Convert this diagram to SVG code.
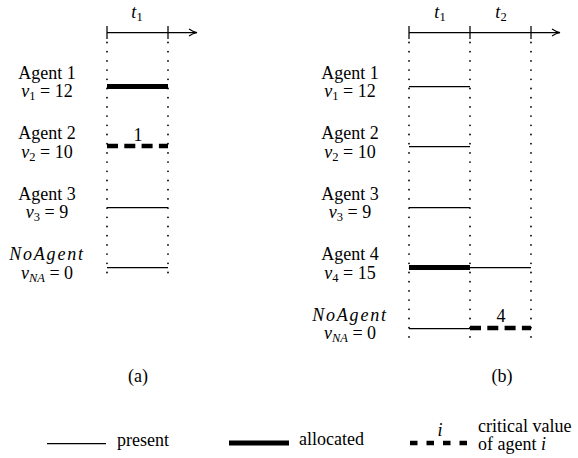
<svg xmlns="http://www.w3.org/2000/svg" width="578" height="458" viewBox="0 0 578 458" font-family="'Liberation Serif', 'Times New Roman', serif">
<style>
text{font-family:'Liberation Serif','Times New Roman',serif;font-size:18px;fill:#000}
.c{text-anchor:middle}
.it{font-style:italic}
.sub{font-size:12.5px}
.thin{stroke:#000;stroke-width:1.25;fill:none}
.thick{stroke:#000;stroke-width:5;fill:none}
.crit{stroke:#000;stroke-width:4.5;fill:none;stroke-dasharray:11 6.3}
.dot{stroke:#000;stroke-width:1.8;fill:none;stroke-dasharray:0 9.2;stroke-linecap:round}
.tick{stroke:#000;stroke-width:1.25}
</style>
<defs>
<marker id="arr" viewBox="0 0 10 10" refX="9" refY="5" markerWidth="10" markerHeight="10" markerUnits="userSpaceOnUse" orient="auto">
<path d="M1,1.5 Q5,4.3 9,5 Q5,5.7 1,8.5" fill="none" stroke="#000" stroke-width="1.1"/>
</marker>
</defs>
<rect width="578" height="458" fill="#fff"/>

<g id="panel-a">
  <g id="a-axis">
    <line class="thin" x1="107" y1="32.5" x2="197" y2="32.5" marker-end="url(#arr)"/>
    <line class="tick" x1="107" y1="26" x2="107" y2="39"/>
    <line class="tick" x1="168" y1="26" x2="168" y2="39"/>
    <text class="c" x="137" y="18"><tspan class="it">t</tspan><tspan class="sub" dy="3">1</tspan></text>
  </g>
  <g id="a-grid">
    <line class="dot" x1="107" y1="42.5" x2="107" y2="278"/>
    <line class="dot" x1="168" y1="42.5" x2="168" y2="278"/>
  </g>
  <g id="a-agent1">
    <text class="c" x="47" y="79">Agent 1</text>
    <text class="c" x="47" y="96.5"><tspan class="it">v</tspan><tspan class="sub" dy="3">1</tspan><tspan dy="-3"> = 12</tspan></text>
    <line class="thick" x1="107" y1="86.5" x2="168" y2="86.5"/>
  </g>
  <g id="a-agent2">
    <text class="c" x="47" y="139">Agent 2</text>
    <text class="c" x="47" y="157.5"><tspan class="it">v</tspan><tspan class="sub" dy="3">2</tspan><tspan dy="-3"> = 10</tspan></text>
    <line class="crit" x1="107" y1="146" x2="168" y2="146"/>
    <text class="c" x="138" y="141">1</text>
  </g>
  <g id="a-agent3">
    <text class="c" x="47" y="200">Agent 3</text>
    <text class="c" x="47" y="218"><tspan class="it">v</tspan><tspan class="sub" dy="3">3</tspan><tspan dy="-3"> = 9</tspan></text>
    <line class="thin" x1="107" y1="207.5" x2="168" y2="207.5"/>
  </g>
  <g id="a-noagent">
    <text class="c it" x="47" y="260" letter-spacing="1.8">NoAgent</text>
    <text class="c" x="47" y="278.5"><tspan class="it">v</tspan><tspan class="sub it" dy="3">NA</tspan><tspan dy="-3"> = 0</tspan></text>
    <line class="thin" x1="107" y1="267.5" x2="168" y2="267.5"/>
  </g>
  <text class="c" x="138" y="382">(a)</text>
</g>

<g id="panel-b">
  <g id="b-axis">
    <line class="thin" x1="409" y1="32.5" x2="560" y2="32.5" marker-end="url(#arr)"/>
    <line class="tick" x1="409" y1="26" x2="409" y2="39"/>
    <line class="tick" x1="470" y1="26" x2="470" y2="39"/>
    <line class="tick" x1="531" y1="26" x2="531" y2="39"/>
    <text class="c" x="440" y="18"><tspan class="it">t</tspan><tspan class="sub" dy="3">1</tspan></text>
    <text class="c" x="501" y="18"><tspan class="it">t</tspan><tspan class="sub" dy="3">2</tspan></text>
  </g>
  <g id="b-grid">
    <line class="dot" x1="409" y1="42.5" x2="409" y2="341"/>
    <line class="dot" x1="470" y1="42.5" x2="470" y2="341"/>
    <line class="dot" x1="531" y1="42.5" x2="531" y2="341"/>
  </g>
  <g id="b-agent1">
    <text class="c" x="350" y="79">Agent 1</text>
    <text class="c" x="350" y="96.5"><tspan class="it">v</tspan><tspan class="sub" dy="3">1</tspan><tspan dy="-3"> = 12</tspan></text>
    <line class="thin" x1="409" y1="86.5" x2="470" y2="86.5"/>
  </g>
  <g id="b-agent2">
    <text class="c" x="350" y="139">Agent 2</text>
    <text class="c" x="350" y="157.5"><tspan class="it">v</tspan><tspan class="sub" dy="3">2</tspan><tspan dy="-3"> = 10</tspan></text>
    <line class="thin" x1="409" y1="146.5" x2="470" y2="146.5"/>
  </g>
  <g id="b-agent3">
    <text class="c" x="350" y="200">Agent 3</text>
    <text class="c" x="350" y="218"><tspan class="it">v</tspan><tspan class="sub" dy="3">3</tspan><tspan dy="-3"> = 9</tspan></text>
    <line class="thin" x1="409" y1="207.5" x2="470" y2="207.5"/>
  </g>
  <g id="b-agent4">
    <text class="c" x="350" y="260">Agent 4</text>
    <text class="c" x="350" y="278.5"><tspan class="it">v</tspan><tspan class="sub" dy="3">4</tspan><tspan dy="-3"> = 15</tspan></text>
    <line class="thick" x1="409" y1="267.5" x2="470" y2="267.5"/>
    <line class="thin" x1="470" y1="267.5" x2="531" y2="267.5"/>
  </g>
  <g id="b-noagent">
    <text class="c it" x="350" y="320.5" letter-spacing="1.8">NoAgent</text>
    <text class="c" x="350" y="339"><tspan class="it">v</tspan><tspan class="sub it" dy="3">NA</tspan><tspan dy="-3"> = 0</tspan></text>
    <line class="thin" x1="409" y1="328.5" x2="470" y2="328.5"/>
    <line class="crit" x1="470" y1="328" x2="531" y2="328"/>
    <text class="c" x="501" y="322">4</text>
  </g>
  <text class="c" x="502" y="382">(b)</text>
</g>

<g id="legend">
  <g id="legend-present">
    <line class="thin" x1="47" y1="443.5" x2="106" y2="443.5"/>
    <text x="117" y="446">present</text>
  </g>
  <g id="legend-allocated">
    <line class="thick" x1="229" y1="443" x2="289" y2="443"/>
    <text x="299" y="445">allocated</text>
  </g>
  <g id="legend-critical">
    <line class="crit" x1="410" y1="443" x2="469" y2="443" style="stroke-dasharray:7.5 9"/>
    <text class="c it" x="440" y="436">i</text>
    <text x="478" y="432">critical value</text>
    <text x="478" y="450">of agent <tspan class="it">i</tspan></text>
  </g>
</g>
</svg>
